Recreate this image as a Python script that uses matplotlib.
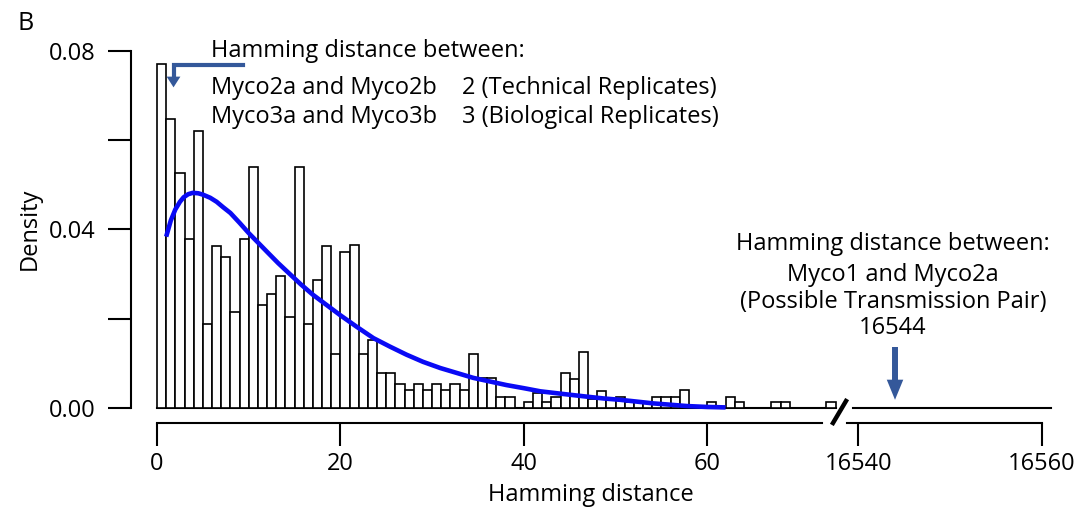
import matplotlib
matplotlib.use("Agg")
import matplotlib.pyplot as plt

plt.rcParams["font.family"] = ["Open Sans", "DejaVu Sans"]

# histogram of pairwise Hamming distances (bins of width 1, density scale)
bin_left = list(range(0, 74))
density = [
    0.0770, 0.0647, 0.0527, 0.0378, 0.0621, 0.0189, 0.0364, 0.0338, 0.0215, 0.0378,
    0.0539, 0.0230, 0.0256, 0.0297, 0.0204, 0.0539, 0.0189, 0.0286, 0.0364, 0.0122,
    0.0350, 0.0365, 0.0121, 0.0152, 0.0080, 0.0080, 0.0054, 0.0041, 0.0054, 0.0041,
    0.0054, 0.0041, 0.0054, 0.0041, 0.0121, 0.0067, 0.0067, 0.0026, 0.0026, 0.0000,
    0.0013, 0.0034, 0.0013, 0.0025, 0.0080, 0.0066, 0.0125, 0.0020, 0.0038, 0.0020,
    0.0026, 0.0013, 0.0013, 0.0013, 0.0026, 0.0026, 0.0026, 0.0040, 0.0000, 0.0000,
    0.0013, 0.0000, 0.0026, 0.0013, 0.0000, 0.0000, 0.0000, 0.0013, 0.0013, 0.0000,
    0.0000, 0.0000, 0.0000, 0.0013,
]

# fitted density curve
curve_x = [1.0, 1.5, 2.0, 2.5, 2.9, 3.4, 3.9, 4.5, 5.0, 5.8, 6.5, 7.2, 8.0, 9.0,
           10.0, 11.0, 12.0, 13.2, 14.5, 15.7, 17.0, 18.5, 20.0, 21.8, 23.6,
           25.4, 27.2, 29.0, 30.9, 32.7, 34.5, 36.3, 38.1, 40.0, 41.8, 44.3,
           46.9, 48.7, 50.5, 52.3, 54.1, 56.0, 57.8, 60.0, 62.0]
curve_y = [0.0384, 0.0420, 0.0445, 0.0462, 0.0472, 0.0479, 0.0482, 0.0481, 0.0478,
           0.0471, 0.0462, 0.0450, 0.0437, 0.0415, 0.0392, 0.0371, 0.0350, 0.0325,
           0.0300, 0.0277, 0.0254, 0.0231, 0.0208, 0.0182, 0.0157, 0.0138, 0.0120,
           0.0104, 0.0090, 0.0079, 0.0068, 0.0060, 0.0052, 0.0045, 0.0038, 0.0032,
           0.0026, 0.0022, 0.0019, 0.0015, 0.0011, 0.0008, 0.0005, 0.0003, 0.0002]

y_ticks = [0.0, 0.02, 0.04, 0.06, 0.08]
y_labels = ["0.00", "", "0.04", "", "0.08"]
left_ticks = [0, 20, 40, 60]
right_ticks = [16540, 16560]
pair_distance = 16544

W, H = 1084, 519
FS = 17
ARROW = "#34589a"
LW = 1.5


def fx(px):
    return px / W


def fy(py):
    return 1 - py / H


fig = plt.figure(figsize=(W / 100, H / 100), dpi=100)
ylim = (-0.0032, 0.0832)
top_px, bot_px = 36.4, 422.6
ax1 = fig.add_axes([fx(130.7), fy(bot_px), (843.6 - 130.7) / W, (bot_px - top_px) / H])
ax2 = fig.add_axes([fx(846.7), fy(bot_px), (1053.6 - 846.7) / W, (bot_px - top_px) / H])
ax1.set_xlim(-2.87, 74.87)
ax2.set_xlim(16538.73, 16561.3)

for ax in (ax1, ax2):
    ax.set_ylim(*ylim)
    ax.patch.set_visible(False)
    for side in ("top", "right"):
        ax.spines[side].set_visible(False)
    ax.spines["bottom"].set_linewidth(LW)
    ax.tick_params(axis="x", direction="out", length=16.5, width=LW,
                   pad=5, labelsize=FS)

ax1.spines["left"].set_linewidth(LW)
ax1.spines["left"].set_bounds(0, 0.08)
ax1.spines["bottom"].set_bounds(0, 72.5)
ax1.set_yticks(y_ticks)
ax1.set_yticklabels(y_labels)
ax1.tick_params(axis="y", direction="out", length=16.5, width=LW, pad=9,
                labelsize=FS)
ax1.set_xticks(left_ticks)

ax2.spines["left"].set_visible(False)
ax2.spines["bottom"].set_bounds(16538.73, 16560)
ax2.set_yticks([])
ax2.set_xticks(right_ticks)

# bars and baseline
ax1.plot([0, 74], [0, 0], color="black", lw=LW, zorder=1)
ax2.plot([16539.4, 16561.0], [0, 0], color="black", lw=LW, zorder=1)
ax1.bar(bin_left, density, width=1, align="edge", facecolor="white",
        edgecolor="black", linewidth=1.2, zorder=2)
ax1.plot(curve_x, curve_y, color="#0a0af5", lw=3.3, zorder=3,
         solid_capstyle="butt")

# axis break slash
fig.add_artist(plt.Line2D([fx(833), fx(846)], [fy(423), fy(401)],
                          color="black", lw=3.2))

# left arrow (to distances 2 and 3)
ax1.plot([9.35, 1.8, 1.8], [0.0768, 0.0768, 0.0740], color=ARROW, lw=3,
         solid_joinstyle="miter", zorder=4)
ax1.fill([1.05, 2.55, 1.8], [0.0742, 0.0742, 0.0718], color=ARROW, zorder=4,
         lw=0)

# right arrow (to the transmission pair)
ax2.plot([pair_distance, pair_distance], [0.0137, 0.0060], color=ARROW, lw=4.3,
         solid_capstyle="butt")
ax2.fill([pair_distance - 0.9, pair_distance + 0.9, pair_distance],
         [0.0064, 0.0064, 0.0019], color=ARROW, lw=0)

# annotations
fig.text(fx(211), fy(57), "Hamming distance between:", fontsize=FS, va="baseline")
fig.text(fx(211), fy(94), "Myco2a and Myco2b", fontsize=FS, va="baseline")
fig.text(fx(462), fy(94), "2 (Technical Replicates)", fontsize=FS, va="baseline")
fig.text(fx(211), fy(123), "Myco3a and Myco3b", fontsize=FS, va="baseline")
fig.text(fx(462), fy(123), "3 (Biological Replicates)", fontsize=FS, va="baseline")

right_lines = ["Hamming distance between:", "Myco1 and Myco2a",
               "(Possible Transmission Pair)", str(pair_distance)]
for line, base in zip(right_lines, [250, 281, 308, 334]):
    fig.text(fx(893), fy(base), line, fontsize=FS, ha="center", va="baseline")

fig.text(fx(30), fy(229), "Density", fontsize=FS, rotation=90, ha="center",
         va="center")
fig.text(fx(591), fy(495), "Hamming distance", fontsize=FS, ha="center",
         va="center")
fig.text(fx(17), fy(30), "B", fontsize=18, va="baseline")

fig.savefig("out.png", dpi=100)
